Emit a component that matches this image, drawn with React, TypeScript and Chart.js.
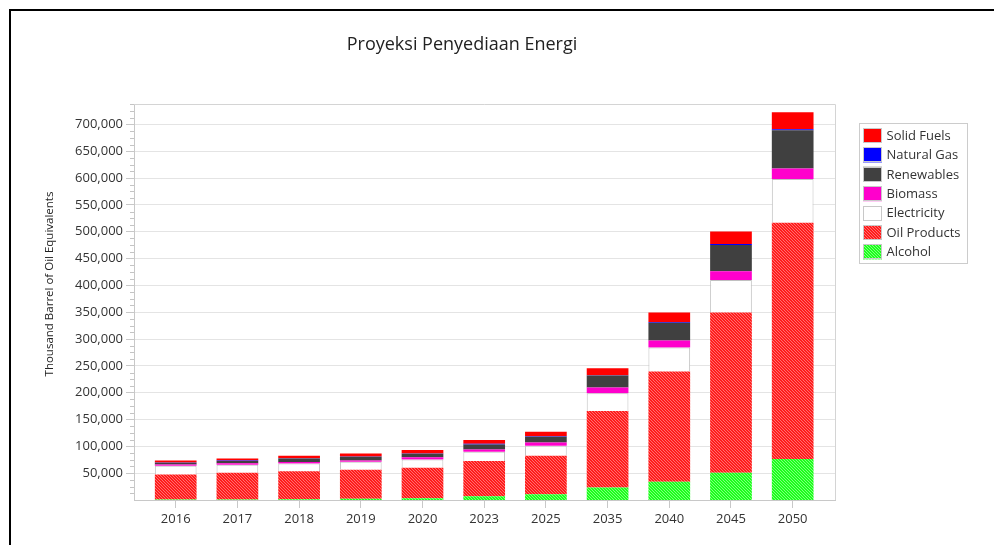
import React, { useEffect, useRef } from 'react';
import { Chart, registerables } from 'chart.js';

Chart.register(...registerables);

const chartTitle = 'Proyeksi Penyediaan Energi';
const yAxisTitle = 'Thousand Barrel of Oil Equivalents';

const years = ['2016', '2017', '2018', '2019', '2020', '2023', '2025', '2035', '2040', '2045', '2050'];

const alcohol = [800, 1000, 1500, 2500, 3400, 7000, 10800, 23300, 33800, 50600, 76200];
const oilProducts = [46800, 49600, 52300, 53700, 56600, 65500, 71600, 142600, 205500, 298900, 440300];
const electricity = [16000, 15000, 14300, 15000, 15500, 17400, 18700, 33000, 44800, 60500, 81500];
const biomass = [2500, 2800, 2500, 2500, 4300, 4400, 6200, 10600, 13000, 16100, 20000];
const renewables = [3500, 4500, 6800, 6800, 6200, 9300, 10600, 22400, 33400, 49300, 71000];
const naturalGas = [500, 500, 500, 500, 800, 1000, 1000, 500, 1000, 1900, 1900];
const solidFuels = [3700, 4100, 4500, 5800, 6200, 7100, 8300, 13200, 18000, 23000, 31700];

const yTickValues = [50000, 100000, 150000, 200000, 250000, 300000, 350000, 400000, 450000, 500000, 550000, 600000, 650000, 700000];
const yMax = 738000;
const minorStep = 12500;

const FONT = '"Open Sans", "Noto Sans", sans-serif';

function makeHatch(base: string, stripe: string): CanvasPattern | string {
  const c = document.createElement('canvas');
  c.width = 3;
  c.height = 3;
  const g = c.getContext('2d');
  if (!g) return base;
  g.fillStyle = base;
  g.fillRect(0, 0, 3, 3);
  g.fillStyle = stripe;
  for (let i = 0; i < 3; i++) g.fillRect(i, i, 1, 1);
  const p = g.createPattern(c, 'repeat');
  return p || base;
}

function fmt(v: number): string {
  return String(Math.round(v)).replace(/\B(?=(\d{3})+(?!\d))/g, ',');
}

const decorPlugin = {
  id: 'decor',
  afterDraw(chart: any) {
    const { ctx, chartArea: a, scales } = chart;
    ctx.save();
    ctx.strokeStyle = '#d4d4d4';
    ctx.lineWidth = 1;
    ctx.beginPath();
    ctx.moveTo(a.left, Math.round(a.top) + 0.5);
    ctx.lineTo(Math.round(a.right) + 0.5, Math.round(a.top) + 0.5);
    ctx.lineTo(Math.round(a.right) + 0.5, a.bottom);
    ctx.stroke();

    const ys = scales.y;
    ctx.strokeStyle = '#c4c4c4';
    ctx.beginPath();
    for (let v = minorStep; v < ys.max; v += minorStep) {
      if (v % 50000 === 0) continue;
      const py = Math.round(ys.getPixelForValue(v)) + 0.5;
      ctx.moveTo(a.left - 4, py);
      ctx.lineTo(a.left, py);
    }
    ctx.stroke();

    ctx.fillStyle = '#222';
    ctx.font = '18px ' + FONT;
    ctx.textAlign = 'center';
    ctx.textBaseline = 'middle';
    ctx.fillText(chartTitle, 462, 45);

    ctx.save();
    ctx.translate(50, 284);
    ctx.rotate(-Math.PI / 2);
    ctx.font = '11.5px ' + FONT;
    ctx.fillStyle = '#222';
    ctx.fillText(yAxisTitle, 0, 0);
    ctx.restore();

    const ds = chart.data.datasets.slice().reverse();
    const lx = 859.5, ly = 123.5, lw = 108, lh = 140;
    ctx.fillStyle = '#fff';
    ctx.fillRect(lx, ly, lw, lh);
    ctx.strokeStyle = '#cccccc';
    ctx.strokeRect(lx, ly, lw, lh);
    ctx.font = '13px ' + FONT;
    ctx.textAlign = 'left';
    ctx.textBaseline = 'middle';
    ds.forEach((d: any, i: number) => {
      const sy = 128 + i * 19.4;
      ctx.fillStyle = d.backgroundColor;
      ctx.fillRect(863, sy, 19, 15);
      ctx.strokeStyle = '#c8c8c8';
      ctx.strokeRect(863.5, Math.round(sy) + 0.5, 18, 14);
      ctx.fillStyle = '#333';
      ctx.fillText(d.label, 886.5, sy + 8);
    });
    ctx.restore();
  },
};

export default function App() {
  const ref = useRef<HTMLCanvasElement | null>(null);

  useEffect(() => {
    if (!ref.current) return;
    const oilPattern = makeHatch('#ff1c1c', '#ff7070');
    const alcPattern = makeHatch('#1cff1c', '#80ff80');
    const pts = (arr: number[]) => arr.map((v, i) => ({ x: i, y: v }));

    const chart = new Chart(ref.current, {
      type: 'bar',
      data: {
        datasets: [
          { label: 'Alcohol', data: pts(alcohol), backgroundColor: alcPattern as any, borderWidth: 0 },
          { label: 'Oil Products', data: pts(oilProducts), backgroundColor: oilPattern as any, borderWidth: 0 },
          { label: 'Electricity', data: pts(electricity), backgroundColor: '#ffffff', borderColor: '#c0c0c0', borderWidth: 1 },
          { label: 'Biomass', data: pts(biomass), backgroundColor: '#ff00cc', borderWidth: 0 },
          { label: 'Renewables', data: pts(renewables), backgroundColor: '#404040', borderWidth: 0 },
          { label: 'Natural Gas', data: pts(naturalGas), backgroundColor: '#0000ff', borderWidth: 0 },
          { label: 'Solid Fuels', data: pts(solidFuels), backgroundColor: '#ff0000', borderWidth: 0 },
        ],
      },
      options: {
        animation: false,
        responsive: false,
        maintainAspectRatio: false,
        categoryPercentage: 1,
        barPercentage: 0.676,
        layout: { padding: { top: 104, right: 159, left: 0, bottom: 0 } },
        plugins: {
          legend: { display: false },
          title: { display: false },
          tooltip: { enabled: false },
        },
        scales: {
          x: {
            type: 'linear',
            stacked: true,
            min: -0.676,
            max: 10.686,
            offset: false,
            afterBuildTicks: (s: any) => {
              s.ticks = years.map((_, i) => ({ value: i }));
            },
            afterFit: (s: any) => {
              s.height = 45;
            },
            ticks: {
              autoSkip: false,
              maxRotation: 0,
              padding: 3,
              color: '#333',
              font: { family: FONT, size: 13 },
              callback: (v: any) => years[Math.round(Number(v))] ?? '',
            },
            grid: { drawOnChartArea: false, tickLength: 8, tickColor: '#c8c8c8', offset: false },
            border: { color: '#c8c8c8' },
          },
          y: {
            type: 'linear',
            stacked: true,
            min: 0,
            max: yMax,
            afterBuildTicks: (s: any) => {
              s.ticks = yTickValues.map((v) => ({ value: v }));
            },
            afterFit: (s: any) => {
              s.width = 134;
            },
            ticks: {
              padding: 3,
              color: '#333',
              font: { family: FONT, size: 13 },
              callback: (v: any) => fmt(Number(v)),
            },
            grid: { color: '#e4e4e4', tickLength: 8, tickColor: '#c8c8c8' },
            border: { color: '#c8c8c8' },
          },
        },
      } as any,
      plugins: [decorPlugin],
    });
    return () => chart.destroy();
  }, []);

  return (
    <div style={{ position: 'fixed', left: 0, top: 0, width: 994, height: 545, background: '#fff', overflow: 'hidden' }}>
      <div
        style={{
          position: 'absolute',
          left: 9,
          top: 9,
          width: 1100,
          height: 700,
          borderTop: '2px solid #000',
          borderLeft: '2px solid #000',
        }}
      />
      <canvas ref={ref} width={994} height={545} style={{ position: 'absolute', left: 0, top: 0, width: 994, height: 545 }} />
    </div>
  );
}
